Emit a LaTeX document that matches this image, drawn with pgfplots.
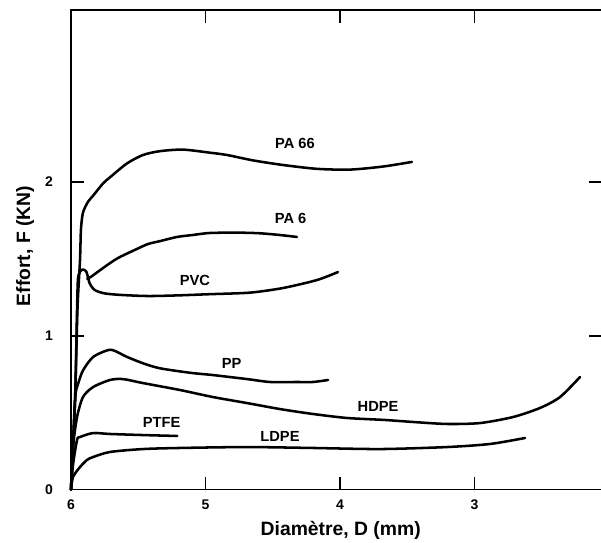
\documentclass[border=0pt]{standalone}
\usepackage{fontspec}
\setmainfont{Liberation Sans}
\usepackage{pgfplots}
\pgfplotsset{compat=1.18}
\begin{document}
\begin{tikzpicture}
\useasboundingbox (-53.25pt,-40.125pt) rectangle (397.5pt,367.125pt);
\begin{axis}[
  at={(0pt,0pt)}, anchor=south west,
  scale only axis, width=398.25pt, height=359.3pt,
  x dir=reverse, xmin=2.052, xmax=6, ymin=0, ymax=3.115,
  xtick={3,4,5,6}, ytick={0,1,2},
  xtick pos=both, ytick pos=both,
  tick align=inside,
  major tick length=9.5pt,
  axis line style={line width=1.4pt, black},
  every tick/.style={black, line width=1.4pt},
  /pgf/number format/assume math mode=true,
  ticklabel style={font=\bfseries\fontsize{10.5}{12}\selectfont},
  xticklabel style={yshift=-4.3pt},
  yticklabel style={xshift=-10pt},
  xlabel={Diamètre, D (mm)},
  ylabel={Effort, F (KN)},
  label style={font=\bfseries\fontsize{14.5}{16}\selectfont},
  xlabel style={at={(axis description cs:0.508,-0.0847)}, anchor=center},
  ylabel style={at={(axis description cs:-0.0866,0.508)}, anchor=center},
  cycle list={{black}},
  every axis plot post/.append style={line width=1.9pt, black, solid, smooth, tension=0.45, no markers, line cap=round, line join=round},
  clip=false,
]
% PA 66
\addplot coordinates {(6,0) (5.970,0.58) (5.952,1.17) (5.933,1.49) (5.926,1.69) (5.911,1.80) (5.874,1.87) (5.836,1.91) (5.762,1.99) (5.71,2.03) (5.584,2.12) (5.465,2.175) (5.338,2.20) (5.167,2.21) (4.967,2.19) (4.84,2.175) (4.647,2.14) (4.424,2.11) (4.171,2.085) (3.926,2.08) (3.68,2.10) (3.465,2.13)};
% PVC
\addplot coordinates {(6,0) (5.970,0.58) (5.955,1.17) (5.948,1.37) (5.93,1.42) (5.911,1.43) (5.885,1.415) (5.861,1.34) (5.824,1.297) (5.749,1.275) (5.628,1.265) (5.428,1.258) (5.21,1.262) (4.967,1.27) (4.67,1.28) (4.424,1.31) (4.171,1.362) (4.015,1.414)};
% PA 6
\addplot coordinates {(5.88,1.37) (5.851,1.383) (5.749,1.448) (5.651,1.505) (5.527,1.557) (5.428,1.596) (5.338,1.615) (5.212,1.642) (5.093,1.655) (4.967,1.668) (4.75,1.670) (4.595,1.666) (4.45,1.655) (4.32,1.642)};
% PP
\addplot coordinates {(6,0) (5.970,0.58) (5.946,0.69) (5.909,0.777) (5.834,0.863) (5.723,0.907) (5.673,0.901) (5.586,0.863) (5.462,0.82) (5.338,0.788) (5.115,0.759) (4.944,0.744) (4.691,0.718) (4.520,0.699) (4.320,0.699) (4.201,0.699) (4.089,0.712)};
% HDPE
\addplot coordinates {(6,0) (5.985,0.276) (5.955,0.471) (5.911,0.601) (5.836,0.666) (5.71,0.712) (5.613,0.718) (5.465,0.692) (5.19,0.647) (4.944,0.601) (4.691,0.562) (4.446,0.523) (4.201,0.491) (3.948,0.465) (3.665,0.452) (3.457,0.439) (3.204,0.426) (2.959,0.432) (2.714,0.471) (2.513,0.53) (2.364,0.601) (2.216,0.731)};
% PTFE
\addplot coordinates {(6,0) (5.985,0.16) (5.955,0.322) (5.933,0.341) (5.836,0.367) (5.71,0.361) (5.465,0.354) (5.21,0.348)};
% LDPE
\addplot coordinates {(6,0) (5.985,0.081) (5.933,0.146) (5.881,0.192) (5.836,0.211) (5.71,0.244) (5.465,0.263) (5.19,0.27) (4.691,0.276) (4.201,0.27) (3.70,0.263) (3.204,0.276) (2.884,0.296) (2.624,0.335)};
\begin{scope}[font=\bfseries\fontsize{11}{13}\selectfont]
\node at (axis cs:4.335,2.251) {PA 66};
\node at (axis cs:4.367,1.763) {PA 6};
\node at (axis cs:5.078,1.362) {PVC};
\node at (axis cs:4.805,0.82) {PP};
\node at (axis cs:3.717,0.538) {HDPE};
\node at (axis cs:5.326,0.434) {PTFE};
\node at (axis cs:4.446,0.348) {LDPE};
\end{scope}
\end{axis}
\end{tikzpicture}
\end{document}
